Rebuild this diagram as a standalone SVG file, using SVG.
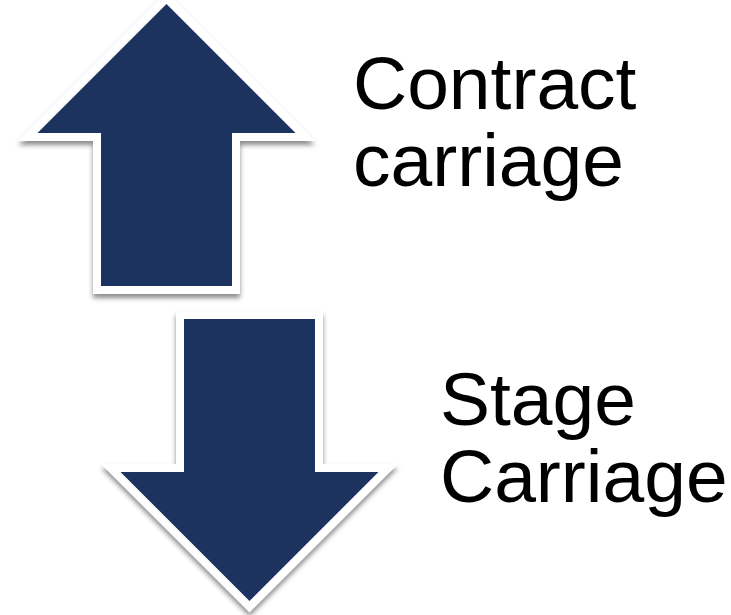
<svg xmlns="http://www.w3.org/2000/svg" width="731" height="615" viewBox="0 0 731 615">
<style>
.arrow{fill:#1f305e;stroke:#ffffff;stroke-width:16;stroke-linejoin:miter;stroke-miterlimit:4;paint-order:stroke;filter:url(#sh)}
.lbl{font-family:"Liberation Sans",Arial,sans-serif;font-size:75px;fill:#000000}
</style>
<defs>
<filter id="sh" x="-20%" y="-20%" width="140%" height="140%">
<feDropShadow dx="0" dy="4" stdDeviation="2.5" flood-color="#000000" flood-opacity="0.45"/>
</filter>
</defs>
<rect width="731" height="615" fill="#ffffff"/>
<g id="contract">
<path class="arrow" d="M166.5,4 L295.5,133 L232,133 L232,286 L101,286 L101,133 L37.5,133 Z"/>
<text class="lbl" x="353" y="109">Contract</text>
<text class="lbl" x="353" y="186">carriage</text>
</g>
<g id="stage">
<path class="arrow" d="M184,319 L315,319 L315,472 L378.5,472 L249.5,601 L120.5,472 L184,472 Z"/>
<text class="lbl" x="440" y="425">Stage</text>
<text class="lbl" x="440" y="502">Carriage</text>
</g>
<g id="connectors"/>
</svg>
